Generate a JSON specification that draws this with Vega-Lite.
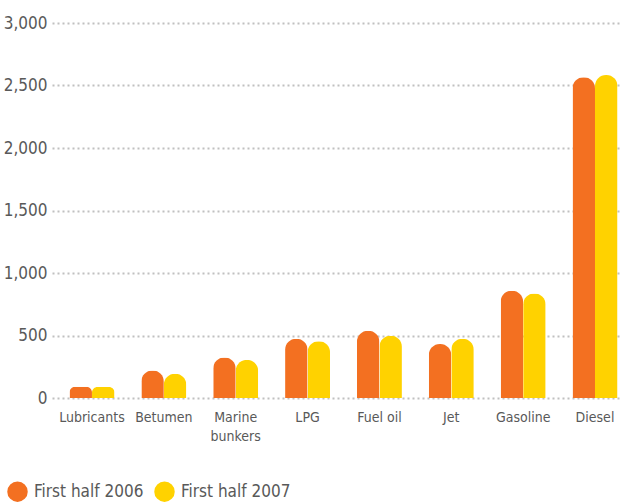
{
  "$schema": "https://vega.github.io/schema/vega-lite/v6.json",
  "autosize": "none",
  "padding": {"left": 52, "top": 23, "right": 6, "bottom": 106},
  "width": 570,
  "height": 375,
  "background": "white",
  "config": {
    "view": {"stroke": null},
    "font": "Liberation Sans Narrow, DejaVu Sans Condensed, sans-serif"
  },
  "data": {
    "values": [
      {"category": "Lubricants", "period": "First half 2006", "value": 90},
      {"category": "Lubricants", "period": "First half 2007", "value": 88},
      {"category": "Betumen", "period": "First half 2006", "value": 220},
      {"category": "Betumen", "period": "First half 2007", "value": 195},
      {"category": "Marine bunkers", "period": "First half 2006", "value": 325},
      {"category": "Marine bunkers", "period": "First half 2007", "value": 305},
      {"category": "LPG", "period": "First half 2006", "value": 475},
      {"category": "LPG", "period": "First half 2007", "value": 455},
      {"category": "Fuel oil", "period": "First half 2006", "value": 538},
      {"category": "Fuel oil", "period": "First half 2007", "value": 498},
      {"category": "Jet", "period": "First half 2006", "value": 432},
      {"category": "Jet", "period": "First half 2007", "value": 475},
      {"category": "Gasoline", "period": "First half 2006", "value": 858},
      {"category": "Gasoline", "period": "First half 2007", "value": 836},
      {"category": "Diesel", "period": "First half 2006", "value": 2566},
      {"category": "Diesel", "period": "First half 2007", "value": 2584}
    ]
  },
  "mark": {"type": "bar", "cornerRadiusTopLeft": 11, "cornerRadiusTopRight": 11},
  "encoding": {
    "x": {
      "field": "category",
      "type": "nominal",
      "sort": null,
      "scale": {"paddingInner": 0.374, "paddingOuter": 0.153, "align": 0.795},
      "axis": {
        "title": null,
        "domain": false,
        "ticks": false,
        "labelAngle": 0,
        "labelPadding": 12,
        "labelFontSize": 14,
        "labelColor": "#595959",
        "labelLineHeight": 19,
        "labelExpr": "datum.label == 'Marine bunkers' ? ['Marine', 'bunkers'] : datum.label"
      }
    },
    "xOffset": {"field": "period", "type": "nominal"},
    "y": {
      "field": "value",
      "type": "quantitative",
      "scale": {"domain": [0, 3000]},
      "axis": {
        "title": null,
        "domain": false,
        "ticks": false,
        "values": [0, 500, 1000, 1500, 2000, 2500, 3000],
        "format": ",.0f",
        "labelPadding": 5,
        "labelFontSize": 17,
        "labelColor": "#595959",
        "gridColor": "#c0c0c0",
        "gridWidth": 2,
        "gridDash": [2, 3]
      }
    },
    "color": {
      "field": "period",
      "type": "nominal",
      "scale": {"domain": ["First half 2006", "First half 2007"], "range": ["#F37021", "#FFD200"]},
      "legend": {
        "title": null,
        "orient": "none",
        "direction": "horizontal",
        "legendX": -45,
        "legendY": 458,
        "symbolType": "circle",
        "symbolSize": 420,
        "symbolStrokeWidth": 0,
        "labelFontSize": 17,
        "labelColor": "#595959",
        "labelOffset": 6,
        "columnPadding": 10
      }
    }
  }
}
